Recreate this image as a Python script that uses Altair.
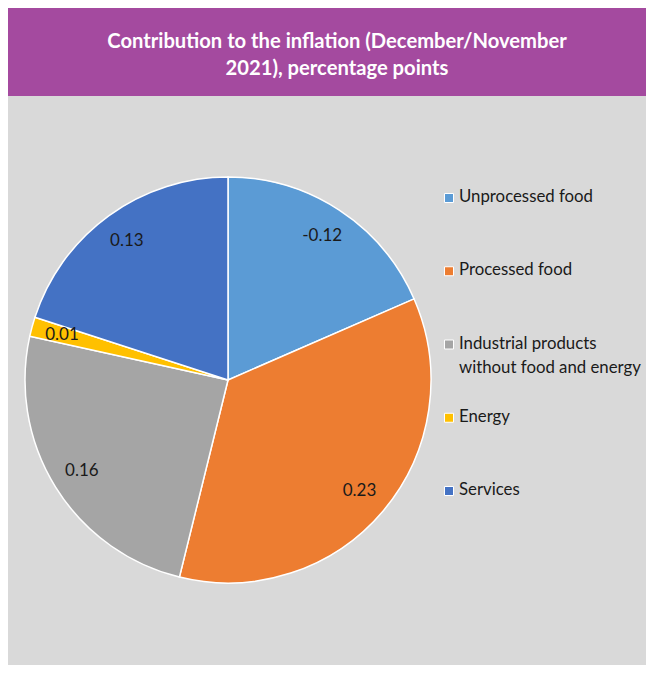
import altair as alt
import pandas as pd

# ---- data ----
categories = ["Unprocessed food", "Processed food",
              "Industrial products without food and energy", "Energy", "Services"]
legend_labels = ["Unprocessed food", "Processed food",
                 "Industrial products\nwithout food and energy", "Energy", "Services"]
values = [-0.12, 0.23, 0.16, 0.01, 0.13]
colors = ["#5b9bd5", "#ed7d31", "#a5a5a5", "#ffc000", "#4472c4"]
title_lines = ["Contribution to the inflation (December/November", "2021), percentage points"]

W, H = 638, 657
CX, CY, R = 220, 372, 203
FONT = "Lato"

df = pd.DataFrame({
    "category": categories,
    "legend": legend_labels,
    "value": values,
    "idx": list(range(len(categories))),
})

color = alt.Color("category:N", scale=alt.Scale(domain=categories, range=colors), legend=None)

base = alt.Chart(df).transform_calculate(
    absval="abs(datum.value)",
    label="toString(datum.value)",
)

pie = base.mark_arc(radius=R, stroke="white", strokeWidth=1.5).encode(
    theta=alt.Theta("absval:Q", stack=True),
    order=alt.Order("idx:Q"),
    color=color,
    x=alt.value(CX),
    y=alt.value(CY),
)

labels = base.mark_text(radius=172, font=FONT, fontSize=17, color="#1a1a1a").encode(
    theta=alt.Theta("absval:Q", stack=True),
    order=alt.Order("idx:Q"),
    text="label:N",
    x=alt.value(CX),
    y=alt.value(CY),
)

leg_y = alt.Y("category:N", sort=categories, axis=None,
              scale=alt.Scale(type="point", range=[190, 483], padding=0))

leg_sym = alt.Chart(df).mark_square(size=81, stroke="white", strokeWidth=1, opacity=1).encode(
    x=alt.value(441),
    y=leg_y,
    color=color,
)

leg_txt = alt.Chart(df).mark_text(align="left", baseline="top", dy=-9, lineBreak="\n",
                                  lineHeight=24, font=FONT, fontSize=16.8,
                                  color="#1a1a1a").encode(
    x=alt.value(451),
    y=leg_y,
    text="legend:N",
)

one = pd.DataFrame({"k": [0]})
banner = alt.Chart(one).mark_rect(color="#a44a9f").encode(
    x=alt.value(-3), x2=alt.value(W), y=alt.value(0), y2=alt.value(88)
)
title = alt.Chart(one).mark_text(text=title_lines, font=FONT, fontSize=20.2, fontWeight="bold",
                                 color="white", lineHeight=26.5, baseline="middle",
                                 align="center").encode(
    x=alt.value(329), y=alt.value(34)
)

chart = alt.layer(banner, title, pie, labels, leg_sym, leg_txt).properties(
    width=W, height=H, autosize="none", padding=0, background="#d9d9d9"
).configure_view(strokeWidth=0)

chart.save("out.html", embed_options={"renderer": "svg", "actions": False})
